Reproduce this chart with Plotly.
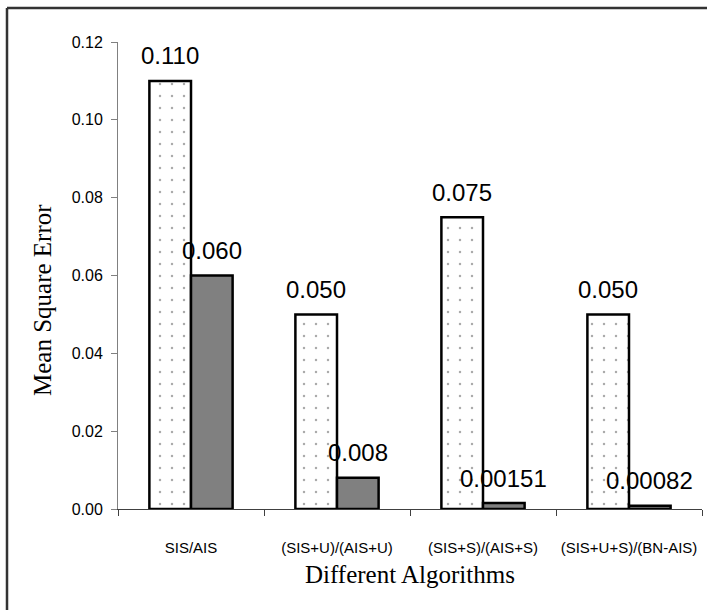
import plotly.graph_objects as go

categories = ["SIS/AIS", "(SIS+U)/(AIS+U)", "(SIS+S)/(AIS+S)", "(SIS+U+S)/(BN-AIS)"]
series_a = [0.110, 0.050, 0.075, 0.050]       # dotted bars
series_b = [0.060, 0.008, 0.00151, 0.00082]   # gray bars
labels_a = ["0.110", "0.050", "0.075", "0.050"]
labels_b = ["0.060", "0.008", "0.00151", "0.00082"]
y_ticks = [0.00, 0.02, 0.04, 0.06, 0.08, 0.10, 0.12]
y_tick_text = ["0.00", "0.02", "0.04", "0.06", "0.08", "0.10", "0.12"]

W, H = 707, 610
L, R, T, B = 118, 5, 42, 101
pw, ph = W - L - R, H - T - B

fig = go.Figure()
fig.add_trace(go.Bar(
    x=categories, y=series_a, name="A",
    marker=dict(color="white",
                line=dict(color="black", width=2.5),
                pattern=dict(shape=".", fgcolor="#555555", bgcolor="white",
                             size=12, solidity=0.035)),
))
fig.add_trace(go.Bar(
    x=categories, y=series_b, name="B",
    marker=dict(color="#808080", line=dict(color="black", width=2.5)),
))

annotations = []
for c, v, t in zip(categories, series_a, labels_a):
    annotations.append(dict(x=c, y=v, xref="x", yref="y", text=t, showarrow=False,
                            xshift=-20.75, yshift=25, yanchor="middle",
                            font=dict(family="Liberation Sans, Arial", size=24, color="black")))
for c, v, t in zip(categories, series_b, labels_b):
    annotations.append(dict(x=c, y=v, xref="x", yref="y", text=t, showarrow=False,
                            xshift=20.75, yshift=25, yanchor="middle",
                            font=dict(family="Liberation Sans, Arial", size=24, color="black")))

# axis titles
annotations.append(dict(x=(410 - L) / pw, y=(H - B - 574) / ph, xref="paper", yref="paper",
                        text="Different Algorithms", showarrow=False,
                        xanchor="center", yanchor="middle",
                        font=dict(family="Liberation Serif, Times New Roman", size=25, color="black")))
annotations.append(dict(x=(42 - L) / pw, y=(H - B - 300) / ph, xref="paper", yref="paper",
                        text="Mean Square Error", showarrow=False, textangle=-90,
                        xanchor="center", yanchor="middle",
                        font=dict(family="Liberation Serif, Times New Roman", size=25, color="black")))

# outer chart-area border (only top and left edges are visible in the reference)
bx0 = (7 - L) / pw
by0 = (H - B - 8) / ph
shapes = [
    dict(type="line", xref="paper", yref="paper", x0=bx0, x1=1.5, y0=by0, y1=by0,
         line=dict(color="#333333", width=2.5), layer="below"),
    dict(type="line", xref="paper", yref="paper", x0=bx0, x1=bx0, y0=by0, y1=-0.5,
         line=dict(color="#333333", width=2.5), layer="below"),
]

fig.update_layout(
    width=W, height=H,
    margin=dict(l=L, r=R, t=T, b=B),
    paper_bgcolor="white", plot_bgcolor="white",
    barmode="group", bargap=0.43, bargroupgap=0,
    showlegend=False,
    annotations=annotations,
    shapes=shapes,
)
fig.update_xaxes(
    showgrid=False, showline=True, linecolor="#404040", linewidth=1,
    ticks="outside", ticklen=6, tickcolor="#404040", tickson="boundaries",
    tickfont=dict(family="Liberation Sans, Arial", size=15, color="black"),
    ticklabelstandoff=25,
)
fig.update_yaxes(
    range=[0, 0.12], showgrid=False, zeroline=False,
    showline=True, linecolor="#808080", linewidth=1,
    ticks="outside", ticklen=6, tickcolor="#808080",
    tickvals=y_ticks, ticktext=y_tick_text,
    tickfont=dict(family="Liberation Sans, Arial", size=16, color="black"),
    ticklabelstandoff=5,
)

fig.write_html("out.html")
